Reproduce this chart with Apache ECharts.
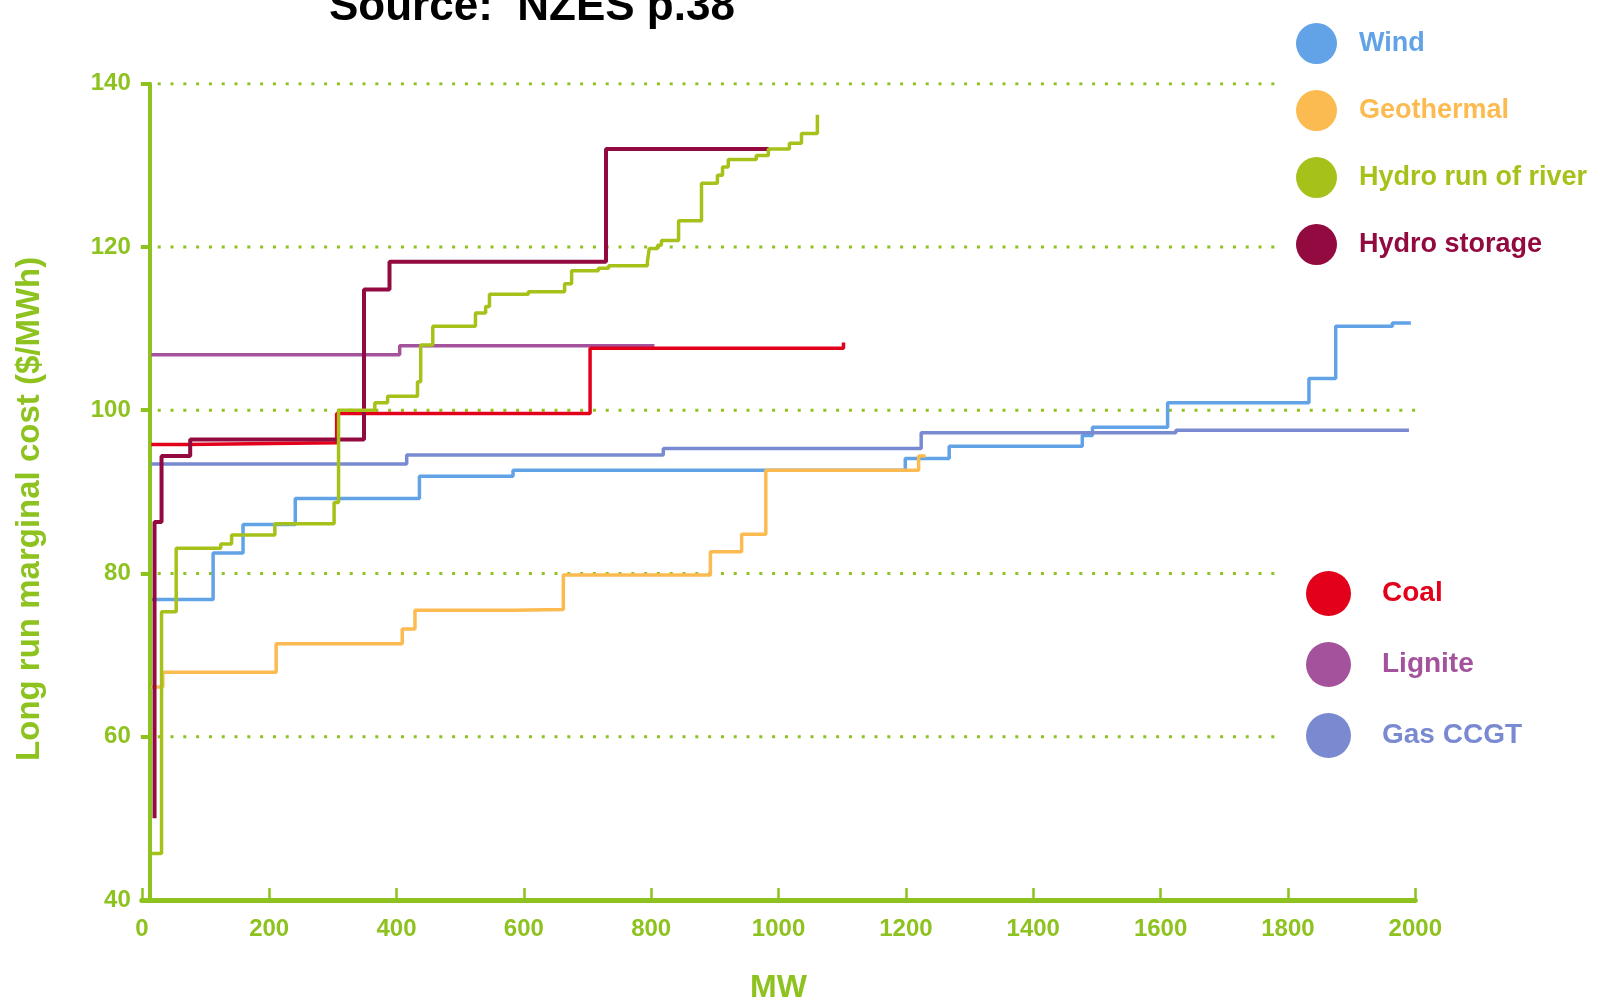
<!DOCTYPE html>
<html>
<head>
<meta charset="utf-8">
<title>Long run marginal cost</title>
<script src="https://cdn.jsdelivr.net/npm/echarts@6/dist/echarts.min.js"></script>
<style>
  html, body { margin: 0; padding: 0; background: #fff; }
  #chart { width: 1600px; height: 1003px; }
</style>
</head>
<body>
<div id="chart"></div>
<script>
// step curves: at MW x the cost steps to the value (last point closes the curve)
var windMW   = [16, 112, 159, 241, 436, 583, 1199, 1268, 1477, 1493, 1611, 1833, 1875, 1964, 1993];
var windCost = [76.8, 82.5, 86.0, 89.2, 91.9, 92.65, 94.1, 95.6, 96.9, 97.9, 100.9, 103.9, 110.3, 110.7, 110.7];

var geoMW   = [15, 33, 211, 409, 429, 584, 662, 893, 942, 980, 1220, 1231];
var geoCost = [66.1, 67.9, 71.4, 73.2, 75.5, 75.6, 79.8, 82.65, 84.8, 92.65, 94.4, 94.4];

var rorMW   = [15, 31, 54, 124, 141, 209, 302, 309, 366, 386, 433, 438, 457, 524, 540, 546, 607, 664, 675, 717,
               733, 794, 797, 810, 816, 843, 879, 904, 912, 921, 965, 984, 1017, 1036, 1061];
var rorCost = [45.7, 75.3, 83.1, 83.6, 84.7, 86.1, 88.7, 100.0, 100.9, 101.7, 103.5, 108.0, 110.3, 111.9, 112.7, 114.2, 114.5, 115.5, 117.1, 117.4,
               117.7, 118.2, 119.8, 120.2, 120.8, 123.2, 127.8, 128.8, 129.8, 130.7, 131.2, 132.0, 132.7, 133.9, 136.2];

var storMW   = [20, 20, 31, 76, 349, 389, 729, 985];
var storCost = [50, 86.3, 94.4, 96.4, 114.8, 118.2, 132.0, 132.0];

var coalMW   = [15, 70, 306, 704, 1102];
var coalCost = [95.8, 96.0, 99.6, 107.6, 108.3];

var ligMW   = [15, 405, 805];
var ligCost = [106.8, 107.9, 107.9];

var gasMW   = [15, 416, 819, 1224, 1624, 1990];
var gasCost = [93.4, 94.5, 95.3, 97.25, 97.55, 97.55];

// dotted guide lines
var guideLevels = [60, 80, 100, 120, 140];
var guideStart  = [25, 25, 25, 25, 25];
var guideEnd    = [1790, 1790, 2000, 1790, 1790];

var legendTop    = ['Wind', 'Geothermal', 'Hydro run of river', 'Hydro storage'];
var legendBottom = ['Coal', 'Lignite', 'Gas CCGT'];

var green = '#8dc21f';
var colors = {
  'Wind': '#62a2e6',
  'Geothermal': '#fbbb50',
  'Hydro run of river': '#a6c21a',
  'Hydro storage': '#920a3f',
  'Coal': '#e2001a',
  'Lignite': '#a3529b',
  'Gas CCGT': '#7a8ad1'
};
var font = '"Liberation Sans", Arial, sans-serif';

function pairs(xs, ys) {
  return xs.map(function (x, i) { return [x, ys[i]]; });
}

function stepSeries(name, xs, ys, width) {
  return {
    name: name,
    type: 'line',
    step: 'end',
    showSymbol: false,
    symbol: 'none',
    color: colors[name],
    lineStyle: { color: colors[name], width: width || 3.5 },
    data: pairs(xs, ys)
  };
}

var series = [];
guideLevels.forEach(function (v, i) {
  series.push({
    name: 'guide' + v,
    type: 'line',
    silent: true,
    showSymbol: false,
    symbol: 'none',
    lineStyle: { color: green, width: 3, type: [3, 9.8] },
    data: [[guideStart[i], v], [guideEnd[i], v]]
  });
});
series.push(stepSeries('Wind', windMW, windCost));
series.push(stepSeries('Gas CCGT', gasMW, gasCost));
series.push(stepSeries('Lignite', ligMW, ligCost));
series.push(stepSeries('Geothermal', geoMW, geoCost));
series.push(stepSeries('Coal', coalMW, coalCost));
series.push(stepSeries('Hydro storage', storMW, storCost, 4));
series.push(stepSeries('Hydro run of river', rorMW, rorCost));

function legendData(names) {
  return names.map(function (n) {
    return { name: n, icon: 'circle', textStyle: { color: colors[n] } };
  });
}

var chart = echarts.init(document.getElementById('chart'));
chart.setOption({
  animation: false,
  backgroundColor: '#fff',
  grid: { left: 141.8, right: 184.7, top: 83.7, bottom: 103, outerBoundsMode: 'none' },
  graphic: [{
    type: 'text',
    left: 329,
    top: -14,
    style: { text: 'Source:  NZES p.38', font: 'bold 44px ' + font, fill: '#000' }
  }],
  legend: [{
    data: legendData(legendTop),
    orient: 'vertical',
    left: 1296,
    top: 23,
    padding: 0,
    itemWidth: 41,
    itemHeight: 41,
    itemGap: 26,
    selectedMode: false,
    textStyle: { fontSize: 27, fontWeight: 'bold', fontFamily: font, padding: [0, 0, 0, 17] }
  }, {
    data: legendData(legendBottom),
    orient: 'vertical',
    left: 1306,
    top: 571,
    padding: 0,
    itemWidth: 45,
    itemHeight: 45,
    itemGap: 26,
    selectedMode: false,
    textStyle: { fontSize: 28, fontWeight: 'bold', fontFamily: font, padding: [0, 0, 0, 26] }
  }],
  xAxis: {
    type: 'value',
    min: 0,
    max: 2000,
    interval: 200,
    name: 'MW',
    nameLocation: 'middle',
    nameGap: 72,
    nameTextStyle: { color: green, fontSize: 32, fontWeight: 'bold', fontFamily: font },
    axisLine: { lineStyle: { color: green, width: 5 } },
    axisTick: { inside: true, length: 12, lineStyle: { color: green, width: 2.5 } },
    axisLabel: {
      color: green, fontSize: 24, fontWeight: 'bold', fontFamily: font, margin: 17,
      formatter: function (v) { return String(v); }
    },
    splitLine: { show: false }
  },
  yAxis: {
    type: 'value',
    min: 40,
    max: 140,
    interval: 20,
    offset: -8,
    name: 'Long run marginal cost ($/MWh)',
    nameLocation: 'middle',
    nameRotate: 90,
    nameGap: 103,
    nameTextStyle: { color: green, fontSize: 33, fontWeight: 'bold', fontFamily: font, padding: [0, 34, 0, 0] },
    axisLine: { show: true, lineStyle: { color: green, width: 4 } },
    axisTick: { show: true, length: 9, lineStyle: { color: green, width: 4 } },
    axisLabel: { color: green, fontSize: 24, fontWeight: 'bold', fontFamily: font, margin: 19 },
    splitLine: { show: false }
  },
  series: series
});
</script>
</body>
</html>
